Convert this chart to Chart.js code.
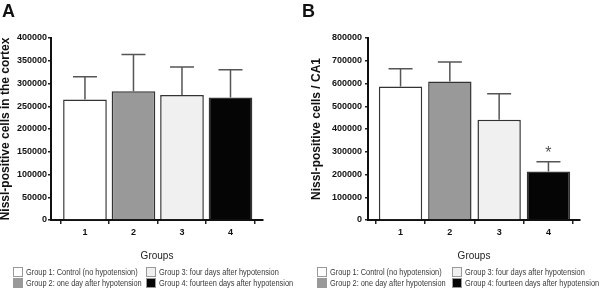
<!DOCTYPE html>
<html>
<head>
<meta charset="utf-8">
<script src="https://cdn.jsdelivr.net/npm/chart.js@4.4.1/dist/chart.umd.min.js"></script>
<style>
  body { margin: 0; background: #fff; }
  #page { position: relative; width: 600px; height: 292px; overflow: hidden;
          font-family: 'Liberation Sans', Arial, sans-serif; }
  .panel { position: absolute; top: 0; width: 300px; height: 262px; }
  .letter { position: absolute; top: 2px; font-weight: bold; font-size: 18px; line-height: 18px; color: #111; }
  .lg-item { position: absolute; height: 10px; display: flex; align-items: center; }
  .lg-box { width: 10px; height: 10px; border: 1px solid #999; box-sizing: border-box; flex: none; }
  .lg-text { font-size: 9px; line-height: 10px; color: #3a3a3a; white-space: nowrap; margin-left: 3px;
             transform: scaleX(0.82) translateZ(0); transform-origin: left center;
             -webkit-font-smoothing: antialiased; }
</style>
</head>
<body>
<div id="page">
  <div class="panel" style="left:0"><canvas id="ch-cortex"></canvas></div>
  <div class="panel" style="left:300px"><canvas id="ch-ca1"></canvas></div>
  <div class="letter" style="left:2px">A</div>
  <div class="letter" style="left:302px">B</div>
  <div id="legend"></div>
</div>
<script>
// ── Datos ────────────────────────────────────────────────────────────────
const groups     = ['1', '2', '3', '4'];
const groupNames = ['Group 1: Control (no hypotension)', 'Group 2: one day after hypotension',
                    'Group 3: four days after hypotension', 'Group 4: fourteen days after hypotension'];
const barColors  = ['#ffffff', '#999999', '#f0f0f0', '#050505'];

const cortexMean = [265000, 283000, 275000, 269000];
const cortexSem  = [50000, 81000, 61000, 61000];
const cortexTicks = [0, 50000, 100000, 150000, 200000, 250000, 300000, 350000, 400000];

const ca1Mean  = [587000, 609000, 441000, 213000];
const ca1Sem   = [78000, 85000, 114000, 43000];
const ca1Marks = ['', '', '', '*'];
const ca1Ticks = [0, 100000, 200000, 300000, 400000, 500000, 600000, 700000, 800000];

Chart.defaults.font.family = "'Liberation Sans', Arial, sans-serif";
Chart.defaults.color = '#222';

// ── Barras de error (solo bigote superior) + marcas ───────────────────────
const errorBars = {
    id: 'errorBars',
    afterDatasetsDraw(chart, args, o) {
        const { ctx, scales: { y } } = chart;
        const meta = chart.getDatasetMeta(0);
        ctx.save();
        ctx.strokeStyle = '#555';
        ctx.lineWidth = 1.5;
        meta.data.forEach((bar, i) => {
            const top = y.getPixelForValue(o.mean[i] + o.sem[i]);
            ctx.beginPath();
            ctx.moveTo(bar.x, bar.y);
            ctx.lineTo(bar.x, top);
            ctx.moveTo(bar.x - 12, top);
            ctx.lineTo(bar.x + 12, top);
            ctx.stroke();
            if (o.marks && o.marks[i]) {
                ctx.fillStyle = '#555';
                ctx.font = "16px 'Liberation Sans', Arial, sans-serif";
                ctx.textAlign = 'center';
                ctx.textBaseline = 'middle';
                ctx.fillText(o.marks[i], bar.x, top - 8);
            }
        });
        ctx.restore();
    },
};

function buildChart(id, mean, sem, ticks, yTitle, cfg) {
    const ctx = document.getElementById(id).getContext('2d');
    return new Chart(ctx, {
        type: 'bar',
        data: {
            datasets: [{
                data: mean.map((v, i) => ({ x: i + 1, y: v })),
                backgroundColor: barColors,
                borderColor: '#333',
                borderWidth: 1.5,
                barPercentage: cfg.barPct,
                categoryPercentage: 1,
            }],
        },
        options: {
            responsive: true, maintainAspectRatio: false, animation: false,
            layout: { padding: { top: 38, right: cfg.padRight, bottom: 0, left: 0 } },
            plugins: {
                legend: { display: false },
                tooltip: { enabled: false },
                errorBars: { mean, sem, marks: cfg.marks },
            },
            scales: {
                x: {
                    type: 'linear', min: cfg.xMin, max: cfg.xMax, offset: false,
                    afterBuildTicks: s => { s.ticks = groups.map((g, i) => ({ value: i + 1 })); },
                    afterFit: s => { s.height = 42; },
                    grid: { drawOnChartArea: false, tickLength: 4, color: '#222', lineWidth: 1.5 },
                    border: { color: '#111', width: 2 },
                    ticks: { font: { size: 9, weight: 'bold' }, padding: 3, color: '#111',
                             callback: v => groups[v - 1] },
                    title: { display: true, text: 'Groups', color: '#222',
                             font: { size: 10 }, padding: { top: 0, bottom: 0 } },
                },
                y: {
                    min: 0, max: ticks[ticks.length - 1],
                    afterBuildTicks: s => { s.ticks = ticks.map(v => ({ value: v })); },
                    afterFit: s => { s.width = cfg.axisWidth; },
                    grid: { drawOnChartArea: false, tickLength: 3, color: '#222', lineWidth: 1.5 },
                    border: { color: '#111', width: 2 },
                    ticks: { font: { size: 9, weight: 'bold' }, padding: cfg.tickPad, color: '#111',
                             callback: v => String(v) },
                    title: { display: true, text: yTitle, color: '#111',
                             font: { size: 12, weight: 'bold', lineHeight: 1 },
                             padding: { top: cfg.titlePad, bottom: 0 } },
                },
            },
        },
        plugins: [errorBars],
    });
}

buildChart('ch-cortex', cortexMean, cortexSem, cortexTicks, 'Nissl-positive cells in the cortex',
    { axisWidth: 51, padRight: 37, xMin: 0.3, xMax: 4.67, barPct: 0.9, tickPad: 1, titlePad: 0 });
buildChart('ch-ca1', ca1Mean, ca1Sem, ca1Ticks, 'Nissl-positive cells / CA1',
    { axisWidth: 68, padRight: 20, xMin: 0.34, xMax: 4.64, barPct: 0.88, tickPad: 3, titlePad: 11, marks: ca1Marks });

// ── Leyenda HTML (2 columnas por panel) ──────────────────────────────────
const legendCols = [[13, 146], [317, 452]];
const legendRows = [267, 278];
let html = '';
legendCols.forEach(cols => {
    groupNames.forEach((name, i) => {
        const left = cols[Math.floor(i / 2)];
        const top  = legendRows[i % 2];
        html += `<div class="lg-item" style="left:${left}px;top:${top}px">` +
                `<span class="lg-box" style="background:${barColors[i]}"></span>` +
                `<span class="lg-text">${name}</span></div>`;
    });
});
document.getElementById('legend').innerHTML = html;
</script>
</body>
</html>
